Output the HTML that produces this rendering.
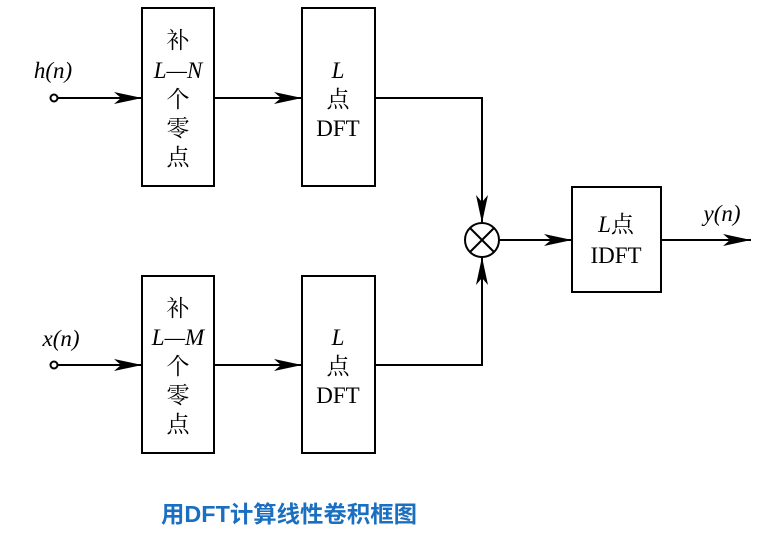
<!DOCTYPE html>
<html><head><meta charset="utf-8"><style>
html,body{margin:0;padding:0;background:#fff;width:776px;height:540px;overflow:hidden}
svg text{font-family:"Liberation Serif","Noto Serif CJK SC",serif;font-size:23px;fill:#000}
.c{font-family:"Liberation Sans","Noto Sans CJK SC",sans-serif;font-size:23px;fill:#1a6fc0;font-weight:bold}
</style></head><body>
<svg width="776" height="540" viewBox="0 0 776 540" xmlns="http://www.w3.org/2000/svg">
<defs><marker id="a" markerWidth="30" markerHeight="14" refX="28" refY="7" orient="auto" markerUnits="userSpaceOnUse">
<path d="M0,1 L28,7 L0,13 L7,7 Z" fill="#000"/></marker></defs>
<g fill="none" stroke="#000" stroke-width="2">
<rect x="142" y="8" width="72" height="178"/>
<rect x="302" y="8" width="73" height="178"/>
<rect x="142" y="276" width="72" height="177"/>
<rect x="302" y="276" width="73" height="177"/>
<rect x="572" y="187" width="89" height="105"/>
<circle cx="482" cy="240" r="17"/>
<line x1="470" y1="228" x2="494" y2="252"/><line x1="494" y1="228" x2="470" y2="252"/>
<circle cx="54" cy="98" r="3.5"/><circle cx="54" cy="365" r="3.5"/>
<line x1="58" y1="98" x2="142" y2="98" marker-end="url(#a)"/>
<line x1="58" y1="365" x2="142" y2="365" marker-end="url(#a)"/>
<line x1="214" y1="98" x2="302" y2="98" marker-end="url(#a)"/>
<line x1="214" y1="365" x2="302" y2="365" marker-end="url(#a)"/>
<polyline points="375,98 482,98 482,223" marker-end="url(#a)"/>
<polyline points="375,365 482,365 482,257" marker-end="url(#a)"/>
<line x1="499" y1="240" x2="572" y2="240" marker-end="url(#a)"/>
<line x1="661" y1="240" x2="751" y2="240" marker-end="url(#a)"/>
</g>
<g text-anchor="middle">
<text x="178" y="48">补</text>
<text x="178" y="78" font-style="italic">L—N</text>
<text x="178" y="107">个</text>
<text x="178" y="136">零</text>
<text x="178" y="165">点</text>
<text x="178" y="316">补</text>
<text x="178" y="345" font-style="italic">L—M</text>
<text x="178" y="374">个</text>
<text x="178" y="403">零</text>
<text x="178" y="432">点</text>
<text x="338" y="78" font-style="italic">L</text>
<text x="338" y="107">点</text>
<text x="338" y="136">DFT</text>
<text x="338" y="345" font-style="italic">L</text>
<text x="338" y="374">点</text>
<text x="338" y="403">DFT</text>
<text x="616" y="232"><tspan font-style="italic">L</tspan>点</text>
<text x="616" y="263">IDFT</text>
<text x="53" y="78" font-style="italic">h(n)</text>
<text x="61" y="346" font-style="italic">x(n)</text>
<text x="722" y="221" font-style="italic">y(n)</text>
<text class="c" x="289" y="522" textLength="256" lengthAdjust="spacingAndGlyphs">用DFT计算线性卷积框图</text>
</g>
</svg>
</body></html>
